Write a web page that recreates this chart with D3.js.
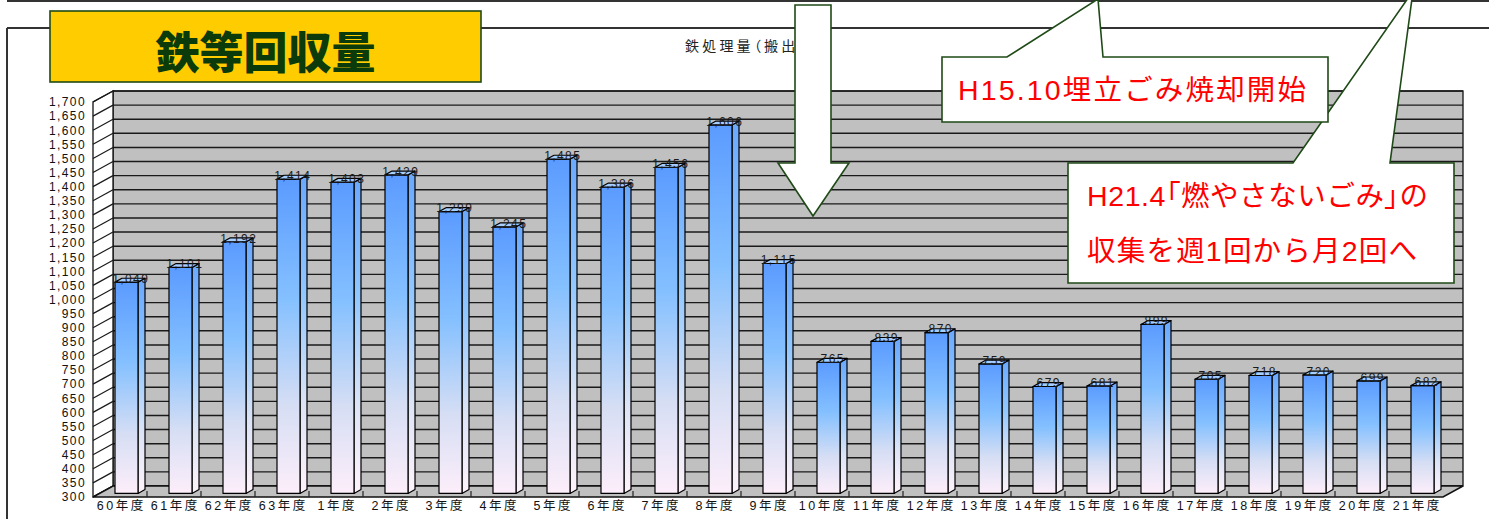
<!DOCTYPE html>
<html><head><meta charset="utf-8">
<script src="https://cdn.jsdelivr.net/npm/d3@7"></script>
<style>
html,body{margin:0;padding:0;background:#fff;}
svg{display:block;}
</style></head>
<body>
<script>
// ---- data ----
const categories = ["60年度","61年度","62年度","63年度","1年度","2年度","3年度","4年度","5年度","6年度","7年度","8年度","9年度","10年度","11年度","12年度","13年度","14年度","15年度","16年度","17年度","18年度","19年度","20年度","21年度"];
const values = [1049,1101,1192,1414,1403,1429,1299,1245,1485,1386,1456,1606,1115,765,839,870,759,679,681,899,705,718,720,699,682];
const yTicks = [300,350,400,450,500,550,600,650,700,750,800,850,900,950,1000,1050,1100,1150,1200,1250,1300,1350,1400,1450,1500,1550,1600,1650,1700];
const titleText = "鉄等回収量";
const captionText = "鉄処理量（搬出量）";
const note1 = [["H15.10埋立ごみ焼却開始"]];
const note2 = [["H21.4", "「", "燃やさないごみ", "」", "の"], ["収集を週1回から月2回へ"]];

// ---- layout ----
const W = 1489, H = 519;
const FONT = "'Liberation Sans','Noto Sans CJK JP',sans-serif";
const GREEN = "#1f4a17";
const svg = d3.select("body").append("svg").attr("width", W).attr("height", H);

const x = d3.scaleBand().domain(categories).range([93, 1443]);
const y = d3.scaleLinear().domain([300, 1700]).range([497, 102]);
const DX = 20, DY = -11;          // depth of the 3D box (front -> back)

const defs = svg.append("defs");
function grad(id, stops) {
  const g = defs.append("linearGradient").attr("id", id).attr("x1", 0).attr("y1", 0).attr("x2", 0).attr("y2", 1);
  stops.forEach(s => g.append("stop").attr("offset", s[0]).attr("stop-color", s[1]));
}
grad("gFront", [[0, "#5b9bff"], [0.38, "#84c0ff"], [0.72, "#d6def4"], [1, "#fdeefa"]]);
grad("gSide", [[0, "#6aa8ff"], [0.38, "#92c8ff"], [0.72, "#dde4f6"], [1, "#fef2fb"]]);

// ---- frame lines ----
const frame = svg.append("g").attr("stroke", "#333").attr("stroke-width", 2);
frame.append("line").attr("x1", 7).attr("y1", 1).attr("x2", W).attr("y2", 1);
frame.append("line").attr("x1", 7).attr("y1", 28).attr("x2", W).attr("y2", 28);
frame.append("line").attr("x1", 7).attr("y1", 28).attr("x2", 7).attr("y2", H);

// caption
svg.append("text").attr("x", 685).attr("y", 51).text(captionText)
  .attr("font-family", "'Noto Sans CJK JP',sans-serif").attr("font-size", 14)
  .attr("letter-spacing", 3.2).attr("fill", "#222").style("font-feature-settings", "'palt'");

// ---- 3D box ----
const [y0, y1] = [y(300), y(1700)];
const xl = x.range()[0], xr = x.range()[1];
svg.append("rect").attr("x", xl + DX).attr("y", y1 + DY).attr("width", xr - xl).attr("height", y0 - y1)
  .attr("fill", "#c0c0c0").attr("stroke", "#111").attr("stroke-width", 1.3);
svg.append("g").selectAll("line").data(yTicks).join("line")
  .attr("x1", xl + DX).attr("x2", xr + DX)
  .attr("y1", d => y(d) + DY).attr("y2", d => y(d) + DY)
  .attr("stroke", "#1a1a1a").attr("stroke-width", 1.4);
svg.append("polygon")
  .attr("points", [[xl, y0], [xl, y1], [xl + DX, y1 + DY], [xl + DX, y0 + DY]].join(" "))
  .attr("fill", "#fff").attr("stroke", "#111").attr("stroke-width", 1.3);
svg.append("g").selectAll("line").data(yTicks).join("line")
  .attr("x1", xl).attr("x2", xl + DX)
  .attr("y1", d => y(d)).attr("y2", d => y(d) + DY)
  .attr("stroke", "#1a1a1a").attr("stroke-width", 1.2);
svg.append("polygon")
  .attr("points", [[xl, y0], [xr, y0], [xr + DX, y0 + DY], [xl + DX, y0 + DY]].join(" "))
  .attr("fill", "#c0c0c0").attr("stroke", "#111").attr("stroke-width", 1.5);
svg.append("g").selectAll("line").data(categories.slice(1)).join("line")
  .attr("x1", d => x(d)).attr("x2", d => x(d))
  .attr("y1", y0 - 6).attr("y2", y0)
  .attr("stroke", "#222").attr("stroke-width", 1.2);

// ---- bars ----
const fw = x.bandwidth() * 0.426;
const t0 = 0.325, bd = 0.35;
const bars = svg.append("g").attr("stroke", "#000").attr("stroke-width", 1.2).attr("stroke-linejoin", "round");
categories.forEach((c, i) => {
  const v = values[i];
  const cx = x(c) + x.bandwidth() / 2;
  const fx = cx + t0 * DX - fw / 2;
  const yT = y(v) + t0 * DY, yB = y(300) + t0 * DY;
  const bdx = bd * DX, bdy = bd * DY;
  const g = bars.append("g");
  g.append("polygon").attr("points", [[fx + fw, yT], [fx + fw + bdx, yT + bdy], [fx + fw + bdx, yB + bdy], [fx + fw, yB]].join(" "))
    .attr("fill", "url(#gSide)");
  g.append("rect").attr("x", fx).attr("y", yT).attr("width", fw).attr("height", yB - yT).attr("fill", "url(#gFront)");
  g.append("polygon").attr("points", [[fx, yT], [fx + bdx, yT + bdy], [fx + fw + bdx, yT + bdy], [fx + fw, yT]].join(" "))
    .attr("fill", "#a6ceff");
  svg.append("text").attr("x", fx + (fw + bdx) / 2 + 0.7).attr("y", yT + bdy + 4.6)
    .attr("text-anchor", "middle").attr("font-family", FONT).attr("font-size", 12)
    .attr("letter-spacing", 1.4).attr("fill", "#1a1a1a").text(d3.format(",")(v));
});

// ---- axes ----
const yAxis = svg.append("g").attr("transform", `translate(${xl},0)`)
  .call(d3.axisLeft(y).tickValues(yTicks).tickFormat(d3.format(",")).tickSize(0).tickPadding(7));
yAxis.select(".domain").remove();
yAxis.selectAll("text").attr("font-family", FONT).attr("font-size", 12).attr("letter-spacing", 1.4).attr("fill", "#111");

const xAxis = svg.append("g").attr("transform", `translate(0,${y0})`)
  .call(d3.axisBottom(x).tickSize(0).tickPadding(4));
xAxis.select(".domain").remove();
xAxis.selectAll("text").attr("font-family", FONT).attr("font-size", 12.5).attr("letter-spacing", 2.6)
  .attr("dx", "1.3px").attr("fill", "#111");

// ---- title box ----
svg.append("rect").attr("x", 50).attr("y", 11).attr("width", 431).attr("height", 71)
  .attr("fill", "#ffcc00").attr("stroke", GREEN).attr("stroke-width", 1.6);
svg.append("text").attr("x", 265.5).attr("y", 50).attr("text-anchor", "middle").attr("dominant-baseline", "central")
  .attr("font-family", "'Noto Sans CJK JP',sans-serif").attr("font-weight", 900).attr("font-size", 44)
  .attr("fill", "#0b3a0b").text(titleText);

// ---- down arrow ----
svg.append("polygon")
  .attr("points", [[795, 5], [831, 5], [831, 163], [849, 163], [813, 216], [778, 163], [795, 163]].join(" "))
  .attr("fill", "#fff").attr("stroke", GREEN).attr("stroke-width", 1.6).attr("stroke-linejoin", "miter");

// ---- callouts ----
function callout(path, lines, xs, ys, lens) {
  svg.append("path").attr("d", path).attr("fill", "#fff").attr("stroke", GREEN).attr("stroke-width", 1.6);
  lines.forEach((parts, i) => {
    const t = svg.append("text").attr("x", xs).attr("y", ys[i]).attr("dominant-baseline", "central")
      .attr("font-family", FONT).attr("font-size", 28.5).attr("fill", "#ff0000")
      .attr("textLength", lens[i]).attr("lengthAdjust", "spacing");
    parts.forEach(p => {
      const s = t.append("tspan").text(p);
      if (p === "「" || p === "」") s.style("font-feature-settings", "'palt'");
    });
  });
}
callout("M1068,163 L1293,163 L1413,-9 L1390,163 L1454,163 L1454,283 L1068,283 Z", note2, 1087, [196, 251], [341, 330]);
callout("M942,57 L1007,57 L1098,-1 L1103,57 L1328,57 L1328,122 L942,122 Z", note1, 958, [90], [348]);
</script>
</body></html>
